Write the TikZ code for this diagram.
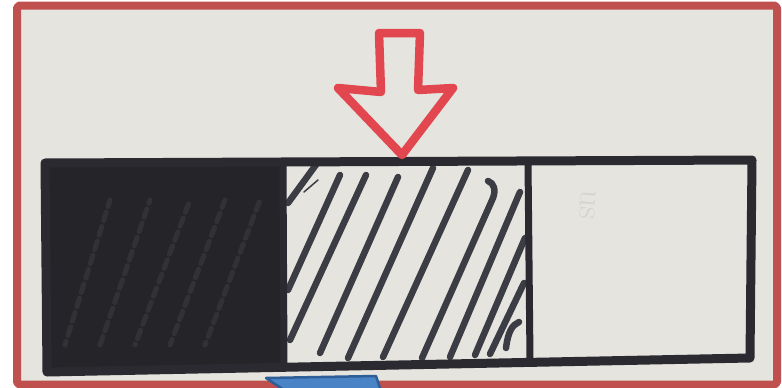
\documentclass[tikz,border=0pt]{standalone}
\usepackage{xcolor}
\definecolor{paper}{HTML}{E5E4DF}
\definecolor{frame}{HTML}{C0504D}
\definecolor{ink}{HTML}{2A2A30}
\definecolor{hatch}{HTML}{3C3C44}
\definecolor{redink}{HTML}{E2474F}
\definecolor{bluefill}{HTML}{4A84C6}
\definecolor{blueedge}{HTML}{2D5E97}
\begin{document}
\begin{tikzpicture}[x=1pt,y=-1pt,line cap=round,line join=round,
  marker/.style={draw=ink,line width=9pt},
  divider/.style={draw=ink,line width=7pt},
  hatchline/.style={draw=hatch,line width=6.5pt},
  texture/.style={draw=gray!70!ink,line width=5pt,opacity=0.22,dash pattern=on 9pt off 6pt},
  redline/.style={draw=redink,line width=8.5pt},
  ghost/.style={text=paper!93!black,font=\fontsize{34}{34}\selectfont}]
\useasboundingbox (0,0) rectangle (782,388);
\fill[white] (0,0) rectangle (782,388);
\fill[paper] (17,5.5) rectangle (777,384.5);
% solid block
\fill[ink!85!black] (48,166) -- (284,164) -- (284,366) -- (50,370) -- cycle;
\foreach \a/\b/\c in {95/70/5,130/110/0,165/150/8,200/185/3,235/220/6}{
  \draw[texture,dash phase=\c pt] (\a-30,345) -- (\b+40,200);
}
% hatching
\draw[hatchline] (318,162) -- (288,203);
\draw[hatchline] (340,175) -- (288,290);
\draw[hatchline] (366,175) -- (290,340);
\draw[hatchline] (398,177) -- (320,353);
\draw[hatchline] (433,168) -- (348,358);
\draw[hatchline] (468,170) -- (383,357);
\draw[hatchline] (488,181) .. controls (494,183) and (496,190) .. (493,198) -- (422,358);
\draw[hatchline] (520,192) -- (450,357);
\draw[hatchline] (525,238) -- (475,355);
\draw[hatchline] (524,283) -- (490,354);
\draw[hatchline] (519,322) .. controls (512,325) and (508,332) .. (506,348);
\draw[hatch,line width=1.5pt] (304,192) -- (318,180);
% outline and dividers
\draw[marker] (45,163) -- (752,160) -- (750,358) -- (47,372) -- cycle;
\draw[divider] (283,164) -- (284,366);
\draw[divider] (528,162) -- (530,360);
% ghost pencil text
\node[ghost,rotate=-95] (pencil) at (588,205) {us};
% red arrow
\coordinate (tip) at (402,155);
\draw[redline] (tip) -- (338,88) -- (381,92) -- (379,33) -- (420,33) -- (418,90) -- (453,88) -- cycle;
% frame
\draw[frame,line width=8pt,rounded corners=3pt] (17,5.5) rectangle (777,384.5);
% blue shape
\filldraw[fill=bluefill,draw=blueedge,line width=2.5pt] (266,378) -- (376,376) -- (382,394) -- (290,394) -- cycle;
\end{tikzpicture}
\end{document}
